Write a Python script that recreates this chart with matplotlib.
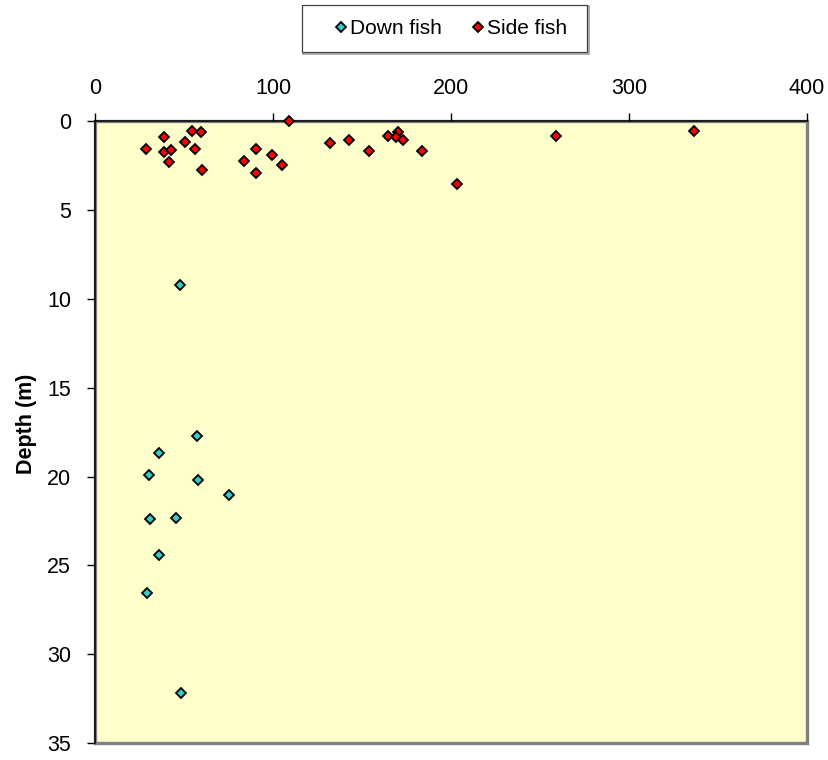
import matplotlib
matplotlib.use("Agg")
import matplotlib.pyplot as plt
from matplotlib.patches import Rectangle

# Down-looking sonar detections: horizontal range vs depth
down_x = [47.6, 57.3, 36.0, 30.3, 57.5, 75.3, 30.9, 45.3, 36.0, 28.9, 48.1]
down_depth = [9.25, 17.73, 18.66, 19.94, 20.2, 21.02, 22.37, 22.34, 24.44, 26.57, 32.16]

# Side-looking sonar detections
side_x = [109.0, 28.3, 38.6, 38.6, 42.5, 41.6, 50.4, 54.5, 59.2, 55.8, 59.9,
          83.4, 90.3, 90.3, 99.3, 104.9, 131.7, 142.7, 153.8, 164.3, 169.9,
          168.9, 173.0, 183.4, 258.7, 336.2, 203.4]
side_depth = [0.01, 1.56, 0.91, 1.73, 1.62, 2.30, 1.17, 0.57, 0.61, 1.6, 2.77,
              2.28, 1.6, 2.95, 1.9, 2.46, 1.25, 1.06, 1.7, 0.85, 0.63,
              0.89, 1.08, 1.71, 0.87, 0.57, 3.57]

x_ticks = [0, 100, 200, 300, 400]
y_ticks = [0, 5, 10, 15, 20, 25, 30, 35]

plt.rcParams['font.family'] = ['Liberation Sans', 'DejaVu Sans']

W, H = 829, 760
fig = plt.figure(figsize=(W / 100, H / 100), dpi=100)
ax = fig.add_axes([0.115, 0.022, 0.8585, 0.819])
ax.set_facecolor('#FFFFCC')

# grey plot-area border, with the black axis lines drawn over it
ax.add_patch(Rectangle((0, 0), 1, 1, transform=ax.transAxes, fill=False,
                       edgecolor='#808080', linewidth=2.4, zorder=1.5, clip_on=False))

ax.plot(down_x, down_depth, linestyle='none', marker='D', ms=5.3,
        mfc='#33CCCC', mec='black', mew=1.3, label='Down fish', clip_on=False, zorder=3)
ax.plot(side_x, side_depth, linestyle='none', marker='D', ms=5.3,
        mfc='#FF0000', mec='black', mew=1.3, label='Side fish', clip_on=False, zorder=3)

ax.set_xlim(0, 400)
ax.set_ylim(35, 0)
ax.set_xticks(x_ticks)
ax.set_yticks(y_ticks)
ax.xaxis.tick_top()
ax.tick_params(axis='both', direction='out', length=5.5, width=1, labelsize=15.5, colors='black')
ax.tick_params(axis='x', pad=10.5)
ax.tick_params(axis='y', pad=12)

for side in ['top', 'left']:
    ax.spines[side].set_color('black')
    ax.spines[side].set_linewidth(1.1)
    ax.spines[side].set_zorder(2.5)
for side in ['bottom', 'right']:
    ax.spines[side].set_visible(False)

ax.set_ylabel('Depth (m)', fontsize=15.5, fontweight='bold')
ax.yaxis.set_label_coords(-0.082, 0.513)

# legend box (with a soft grey drop edge) and its entries
bx0, by0, bx1, by1 = 302, 5, 587, 52
fig.patches.append(Rectangle((bx0 / W + 1.5 / W, 1 - by1 / H - 1.5 / H),
                             (bx1 - bx0) / W, (by1 - by0) / H,
                             transform=fig.transFigure, facecolor='none',
                             edgecolor='#A0A0A0', linewidth=1.2, zorder=0))
fig.patches.append(Rectangle((bx0 / W, 1 - by1 / H), (bx1 - bx0) / W, (by1 - by0) / H,
                             transform=fig.transFigure, facecolor='white',
                             edgecolor='#404040', linewidth=0.9, zorder=1))
leg = fig.legend(loc='center', bbox_to_anchor=(449.5 / W, 1 - 28.5 / H), ncol=2,
                 frameon=False, fontsize=15, handletextpad=0.0,
                 columnspacing=1.3, borderpad=0.7, handlelength=0.85,
                 markerscale=1.0)
leg.set_zorder(5)

fig.savefig('out.png', dpi=100)
